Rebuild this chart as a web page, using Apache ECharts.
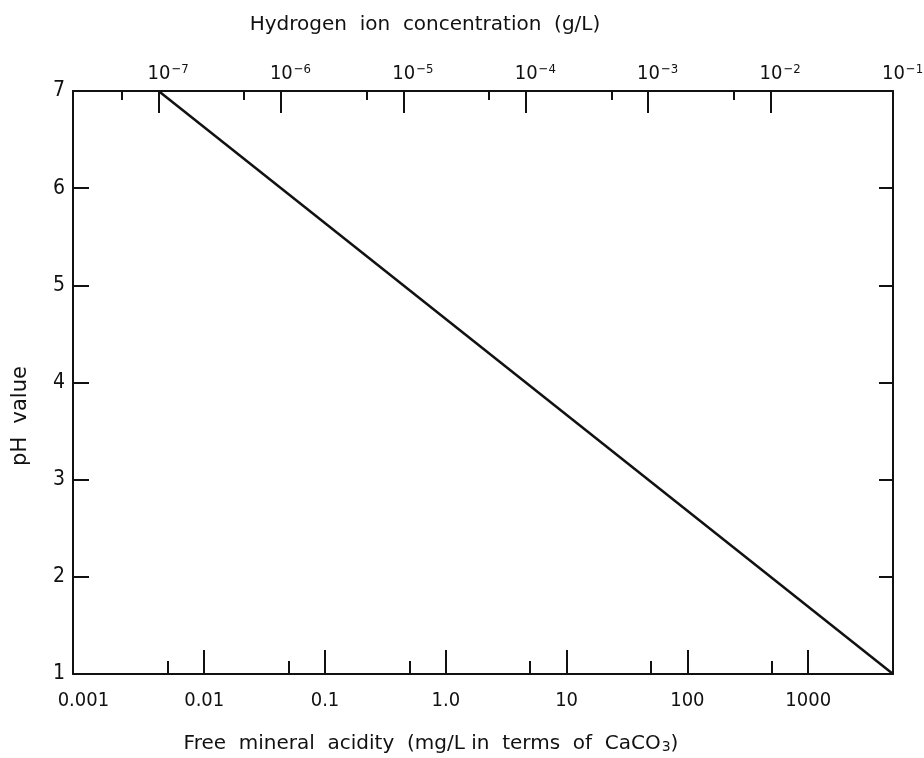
<!DOCTYPE html>
<html>
<head>
<meta charset="utf-8">
<script src="https://cdn.jsdelivr.net/npm/echarts@6/dist/echarts.min.js"></script>
<style>html,body{margin:0;padding:0;background:#fff}#c{width:924px;height:758px}</style>
</head>
<body>
<div id="c"></div>
<script>
// ---- data ----
const bottomTickValues = [0.01, 0.1, 1, 10, 100, 1000];
const bottomLabelValues = [0.001, 0.01, 0.1, 1, 10, 100, 1000];
const bottomLabelTexts = ['0.001', '0.01', '0.1', '1.0', '10', '100', '1000'];
const bottomMinorValues = [0.005, 0.05, 0.5, 5, 50, 500];
const bottomRange = [0.00082, 5035];          // mg/L CaCO3
const topExponents = [-7, -6, -5, -4, -3, -2, -1];
const topMinorValues = [5e-8, 5e-7, 5e-6, 5e-5, 5e-4, 5e-3];
const topRange = [2.0e-8, 0.1];               // g/L H+
const pHTicks = [1, 2, 3, 4, 5, 6, 7];
const hydrogen = [1e-7, 1e-1];                // g/L
const pHValues = [7, 1];

const FONT = '"DejaVu Sans Condensed", "Liberation Sans Narrow", "Liberation Sans", sans-serif';
const TFONT = '"DejaVu Sans", "Liberation Sans", sans-serif';
const L = Math.log10;
const black = '#111';

const chart = echarts.init(document.getElementById('c'), null, {renderer: 'canvas'});

const common = {
  type: 'value', splitLine: {show: false}, axisLine: {show: false, onZero: false}
};

const option = {
  backgroundColor: '#fff',
  animation: false,
  grid: {left: 73, right: 31, top: 91, bottom: 84, containLabel: false, outerBoundsMode: 'none'},
  xAxis: [
    Object.assign({}, common, {
      position: 'bottom', min: L(bottomRange[0]), max: L(bottomRange[1]),
      axisLine: {show: true, onZero: false, lineStyle: {color: black, width: 2}},
      axisTick: {show: true, inside: true, length: 24, lineStyle: {color: black, width: 2},
                 customValues: bottomTickValues.map(L)},
      axisLabel: {show: true, margin: 17, color: black, fontFamily: FONT, fontSize: 20,
                  customValues: bottomLabelValues.map(L),
                  formatter: v => {
                    const i = bottomLabelValues.findIndex(b => Math.abs(L(b) - v) < 1e-6);
                    return i >= 0 ? bottomLabelTexts[i] : '';
                  }}
    }),
    Object.assign({}, common, {
      position: 'top', min: L(topRange[0]), max: L(topRange[1]),
      axisLine: {show: true, onZero: false, lineStyle: {color: black, width: 2}},
      axisTick: {show: true, inside: true, length: 22, lineStyle: {color: black, width: 2},
                 customValues: topExponents},
      axisLabel: {show: true, margin: 6, color: black, fontFamily: FONT, fontSize: 20,
                  customValues: topExponents,
                  formatter: v => '{pad|}{b|10}{sup|' + (v < 0 ? '\u2212' : '') + Math.abs(Math.round(v)) + '}',
                  rich: {
                    pad: {width: 19, fontSize: 20},
                    b: {fontSize: 20, fontFamily: FONT, color: black},
                    sup: {fontSize: 13, fontFamily: FONT, color: black, verticalAlign: 'top', padding: [0, 0, 9, 1]}
                  }}
    }),
    Object.assign({}, common, {
      position: 'bottom', min: L(bottomRange[0]), max: L(bottomRange[1]),
      axisTick: {show: true, inside: true, length: 13, lineStyle: {color: black, width: 2},
                 customValues: bottomMinorValues.map(L)},
      axisLabel: {show: false}
    }),
    Object.assign({}, common, {
      position: 'top', min: L(topRange[0]), max: L(topRange[1]),
      axisTick: {show: true, inside: true, length: 9, lineStyle: {color: black, width: 2},
                 customValues: topMinorValues.map(L)},
      axisLabel: {show: false}
    })
  ],
  yAxis: [
    Object.assign({}, common, {
      position: 'left', min: 1, max: 7, interval: 1,
      axisLine: {show: true, onZero: false, lineStyle: {color: black, width: 2}},
      axisTick: {show: true, inside: true, length: 16, lineStyle: {color: black, width: 2},
                 customValues: pHTicks.slice(1, -1)},
      axisLabel: {show: true, margin: 8, color: black, fontFamily: FONT, fontSize: 21,
                  customValues: pHTicks}
    }),
    Object.assign({}, common, {
      position: 'right', min: 1, max: 7, interval: 1,
      axisLine: {show: true, onZero: false, lineStyle: {color: black, width: 2}},
      axisTick: {show: true, inside: true, length: 14, lineStyle: {color: black, width: 2},
                 customValues: pHTicks.slice(1, -1)},
      axisLabel: {show: false}
    })
  ],
  graphic: [
    {type: 'text', x: 425, y: 25, style: {text: 'Hydrogen  ion  concentration  (g/L)', fill: black,
      font: '20px ' + TFONT, textAlign: 'center', textVerticalAlign: 'middle'}},
    {type: 'text', x: 21, y: 416, rotation: Math.PI / 2, style: {text: 'pH  value', fill: black,
      font: '21px ' + TFONT, textAlign: 'center', textVerticalAlign: 'middle'}},
    {type: 'text', x: 431, y: 744, style: {text: 'Free  mineral  acidity  (mg/L in  terms  of  CaCO{sub|3})', fill: black,
      font: '20px ' + TFONT, textAlign: 'center', textVerticalAlign: 'middle',
      rich: {sub: {fontSize: 14, fontFamily: TFONT, verticalAlign: 'bottom', padding: [7, 0, 0, 1]}}}}
  ],
  series: [{
    type: 'line', xAxisIndex: 1, yAxisIndex: 0, symbol: 'none', silent: true,
    lineStyle: {color: black, width: 2.5},
    data: hydrogen.map((h, i) => [L(h), pHValues[i]])
  }]
};
chart.setOption(option);
</script>
</body>
</html>
